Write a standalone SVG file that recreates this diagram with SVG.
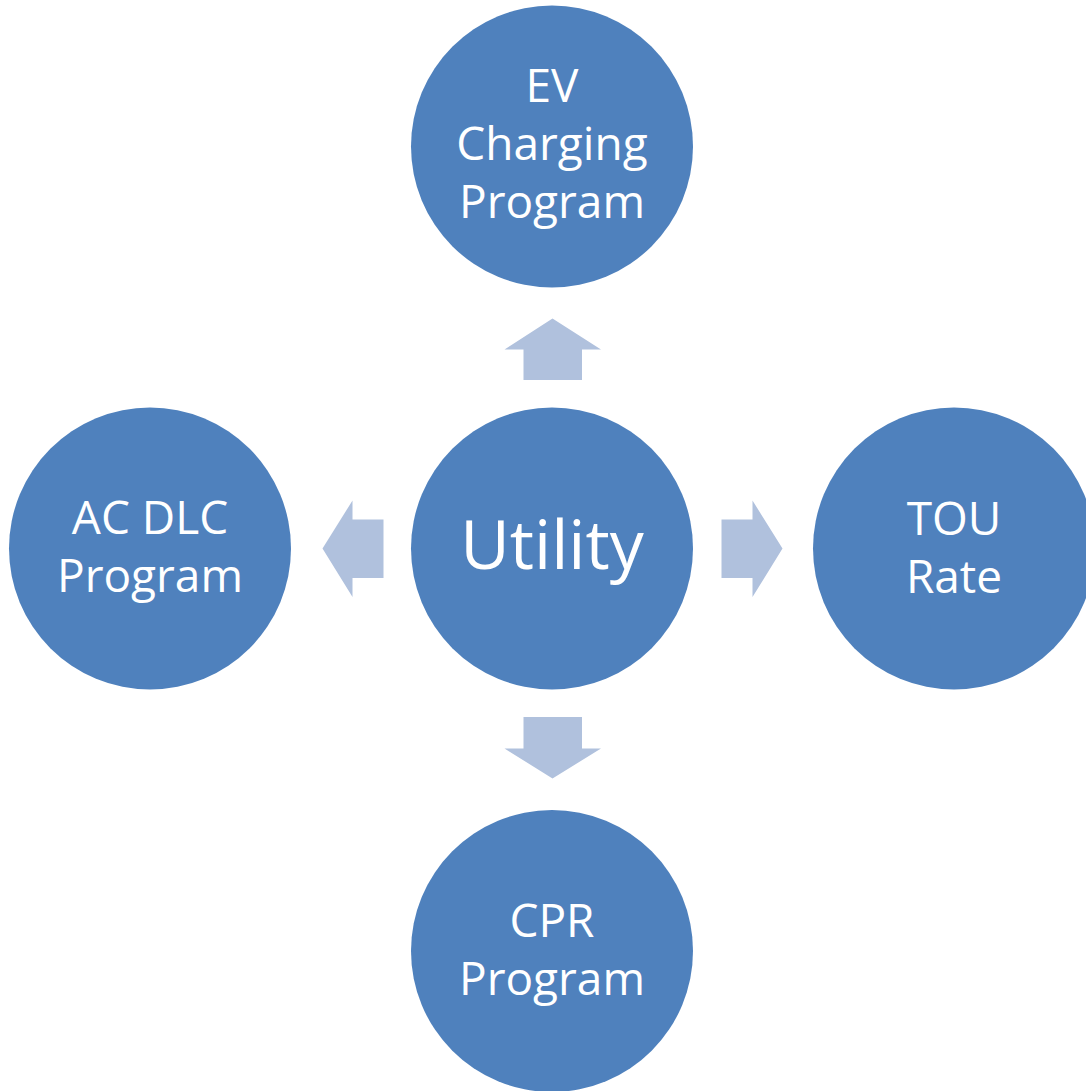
<svg xmlns="http://www.w3.org/2000/svg" width="1086" height="1091" viewBox="0 0 1086 1091">
<style>
.node{fill:#4F81BD}
.arrow{fill:#B0C1DD}
.lbl{fill:#FFFFFF;font-family:"Open Sans","Lato","Liberation Sans",sans-serif;font-size:46px;text-anchor:middle}
.big{font-size:68px}
</style>
<rect width="1086" height="1091" fill="#FFFFFF"/>
<g id="connectors">
<polygon class="arrow" points="552.5,318.5 601,349.5 582,349.5 582,380 523.5,380 523.5,349.5 504.5,349.5"/>
<polygon class="arrow" points="552.5,778.5 601,748.5 582,748.5 582,717 523.5,717 523.5,748.5 504.5,748.5"/>
<polygon class="arrow" points="322.5,548.5 352.5,500.5 352.5,519.5 383.5,519.5 383.5,578 352.5,578 352.5,597"/>
<polygon class="arrow" points="782.5,548.5 752.5,500.5 752.5,519.5 721.5,519.5 721.5,578 752.5,578 752.5,597"/>
</g>
<g id="node-utility">
<circle class="node" cx="552" cy="548.5" r="141"/>
<text class="lbl big" x="552" y="569">Utility</text>
</g>
<g id="node-ev">
<circle class="node" cx="552" cy="146.5" r="141"/>
<text class="lbl" x="552" y="102">EV</text>
<text class="lbl" x="552" y="160">Charging</text>
<text class="lbl" x="552" y="218">Program</text>
</g>
<g id="node-acdlc">
<circle class="node" cx="150" cy="548.5" r="141"/>
<text class="lbl" x="150" y="534">AC DLC</text>
<text class="lbl" x="150" y="592">Program</text>
</g>
<g id="node-tou">
<circle class="node" cx="954" cy="548.5" r="141"/>
<text class="lbl" x="954" y="535">TOU</text>
<text class="lbl" x="954" y="593">Rate</text>
</g>
<g id="node-cpr">
<circle class="node" cx="552" cy="951" r="141"/>
<text class="lbl" x="552" y="937">CPR</text>
<text class="lbl" x="552" y="995">Program</text>
</g>
</svg>
